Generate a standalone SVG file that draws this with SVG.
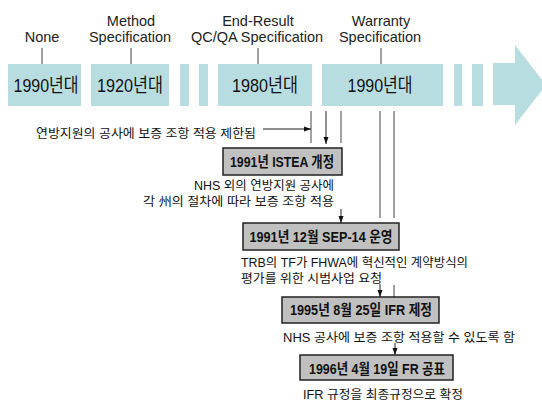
<svg xmlns="http://www.w3.org/2000/svg" width="542" height="404" viewBox="0 0 542 404">
<defs>
<style>
.bar{fill:#b7dde1}
.hdr{font-family:"Liberation Sans","Noto Sans CJK KR",sans-serif;font-size:14.5px;fill:#222;text-anchor:middle}
.era{font-family:"Liberation Sans","Noto Sans CJK KR",sans-serif;font-size:19px;fill:#111;text-anchor:middle}
.txt{font-family:"Liberation Sans","Noto Sans CJK KR",sans-serif;font-size:12.5px;fill:#111}
.box{fill:#c0c0c0;stroke:#222;stroke-width:1.5}
.btx{font-family:"Liberation Sans","Noto Sans CJK KR",sans-serif;font-size:15px;font-weight:bold;fill:#111;text-anchor:middle}
.ln{stroke:#444;stroke-width:1;fill:none}
.ar{stroke:#222;stroke-width:1;fill:none;marker-end:url(#ah)}
</style>
<marker id="ah" viewBox="0 0 7 6" refX="7" refY="3" markerWidth="7" markerHeight="6" markerUnits="userSpaceOnUse" orient="auto">
<path d="M0,0.5 L7,3 L0,5.5 Z" fill="#111"/>
</marker>
</defs>

<g id="timeline">
<rect class="bar" x="8" y="64" width="73" height="42"/>
<rect class="bar" x="91" y="64" width="78" height="42"/>
<rect class="bar" x="180" y="64" width="9" height="42"/>
<rect class="bar" x="199" y="64" width="9" height="42"/>
<rect class="bar" x="218" y="64" width="94" height="42"/>
<rect class="bar" x="322" y="64" width="121" height="42"/>
<rect class="bar" x="454" y="64" width="8" height="42"/>
<rect class="bar" x="472" y="64" width="11" height="42"/>
<polygon class="bar" points="493,63 515,63 515,45 546,85 515,125 515,105 493,105"/>
<text class="era" x="46" y="92" textLength="65" lengthAdjust="spacingAndGlyphs">1990년대</text>
<text class="era" x="130" y="92" textLength="66" lengthAdjust="spacingAndGlyphs">1920년대</text>
<text class="era" x="265" y="92" textLength="66" lengthAdjust="spacingAndGlyphs">1980년대</text>
<text class="era" x="380" y="92" textLength="65" lengthAdjust="spacingAndGlyphs">1990년대</text>
</g>

<g id="headers">
<text class="hdr" x="42" y="42">None</text>
<text class="hdr" x="131" y="26">Method</text>
<text class="hdr" x="130" y="42">Specification</text>
<text class="hdr" x="258" y="26">End-Result</text>
<text class="hdr" x="257" y="42">QC/QA Specification</text>
<text class="hdr" x="381" y="26">Warranty</text>
<text class="hdr" x="380" y="42">Specification</text>
<line class="ln" x1="42" y1="48" x2="42" y2="64"/>
<line class="ln" x1="131" y1="48" x2="131" y2="64"/>
<line class="ln" x1="258" y1="48" x2="258" y2="64"/>
<line class="ln" x1="381" y1="48" x2="381" y2="64"/>
</g>

<g id="connectors">
<line class="ar" x1="263" y1="129" x2="311" y2="129"/>
<line class="ln" x1="311" y1="111" x2="311" y2="143"/>
<line class="ar" x1="326" y1="111" x2="326" y2="144"/>
<line class="ln" x1="341" y1="111" x2="341" y2="143"/>
<line class="ln" x1="380" y1="111" x2="380" y2="218"/>
<line class="ln" x1="394" y1="111" x2="394" y2="218"/>
<line class="ar" x1="341" y1="209" x2="341" y2="223"/>
<line class="ar" x1="380" y1="284" x2="380" y2="297"/>
<line class="ln" x1="394" y1="285" x2="394" y2="297"/>
<line class="ar" x1="395" y1="343" x2="395" y2="355"/>
</g>

<g id="note1">
<text class="txt" x="36" y="138" textLength="220" lengthAdjust="spacingAndGlyphs">연방지원의 공사에 보증 조항 적용 제한됨</text>
</g>

<g id="istea">
<rect class="box" x="223" y="148" width="119" height="27"/>
<text class="btx" x="282" y="167" textLength="104" lengthAdjust="spacingAndGlyphs">1991년 ISTEA 개정</text>
<text class="txt" x="334" y="190" text-anchor="end" textLength="140" lengthAdjust="spacingAndGlyphs">NHS 외의 연방지원 공사에</text>
<text class="txt" x="334" y="206" text-anchor="end" textLength="191" lengthAdjust="spacingAndGlyphs">각 州의 절차에 따라 보증 조항 적용</text>
</g>

<g id="sep14">
<rect class="box" x="243" y="223" width="156" height="27"/>
<text class="btx" x="321" y="242" textLength="143" lengthAdjust="spacingAndGlyphs">1991년 12월 SEP-14 운영</text>
<text class="txt" x="241" y="267" textLength="227" lengthAdjust="spacingAndGlyphs">TRB의 TF가 FHWA에 혁신적인 계약방식의</text>
<text class="txt" x="241" y="283" textLength="141" lengthAdjust="spacingAndGlyphs">평가를 위한 시범사업 요청</text>
</g>

<g id="ifr">
<rect class="box" x="282" y="297" width="157" height="26"/>
<text class="btx" x="361" y="315" textLength="142" lengthAdjust="spacingAndGlyphs">1995년 8월 25일 IFR 제정</text>
<text class="txt" x="283" y="342" textLength="232" lengthAdjust="spacingAndGlyphs">NHS 공사에 보증 조항 적용할 수 있도록 함</text>
</g>

<g id="fr">
<rect class="box" x="300" y="355" width="153" height="25"/>
<text class="btx" x="377" y="374" textLength="136" lengthAdjust="spacingAndGlyphs">1996년 4월 19일 FR 공표</text>
<text class="txt" x="303" y="399" textLength="160" lengthAdjust="spacingAndGlyphs">IFR 규정을 최종규정으로 확정</text>
</g>
</svg>
